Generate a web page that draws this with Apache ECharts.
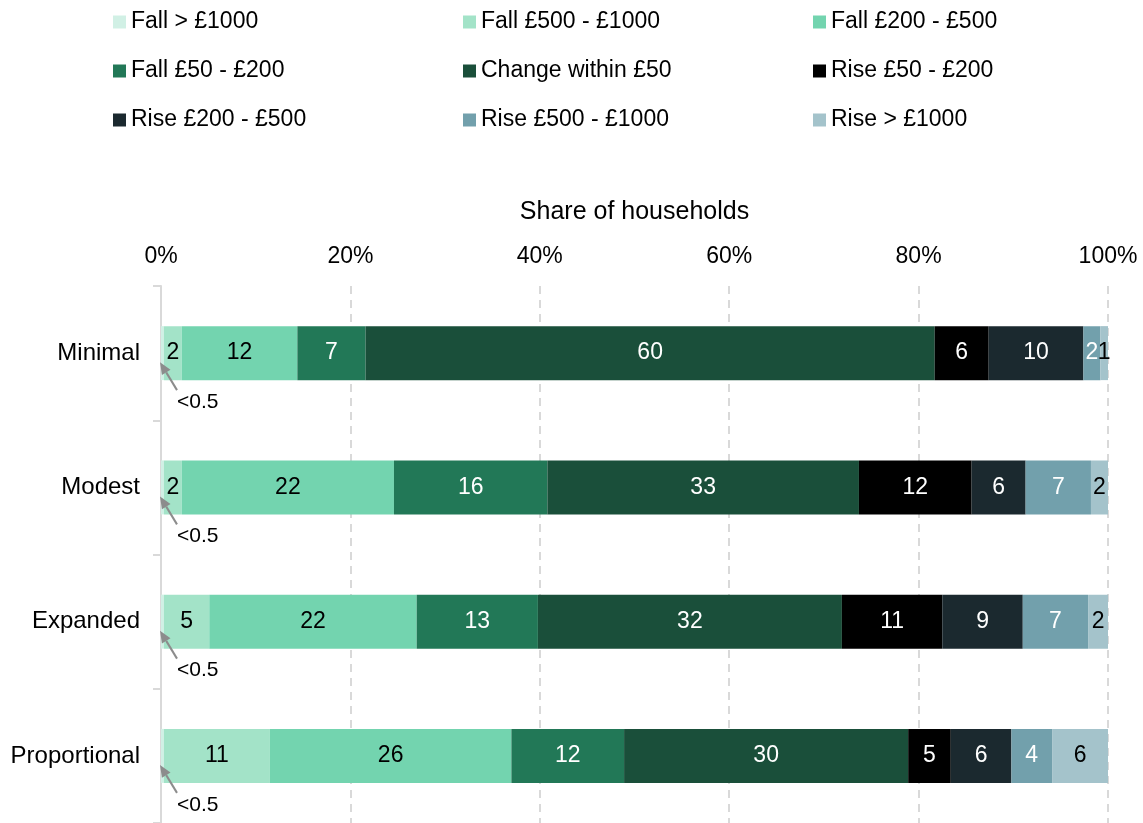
<!DOCTYPE html>
<html>
<head>
<meta charset="utf-8">
<script src="https://cdn.jsdelivr.net/npm/echarts@6/dist/echarts.min.js"></script>
<style>
  html, body { margin: 0; background: #fff; }
  #chart { width: 1143px; height: 823px; }
</style>
</head>
<body>
<div id="chart"></div>
<script>
const categories = ['Minimal', 'Modest', 'Expanded', 'Proportional'];
const seriesNames = [
  'Fall > £1000', 'Fall £500 - £1000', 'Fall £200 - £500',
  'Fall £50 - £200', 'Change within £50', 'Rise £50 - £200',
  'Rise £200 - £500', 'Rise £500 - £1000', 'Rise > £1000'
];
// share of households, %
const fallOver1000 = [0.3, 0.3, 0.3, 0.3];
const fall500to1000 = [1.9, 1.9, 4.8, 11.2];
const fall200to500 = [12.2, 22.4, 21.9, 25.5];
const fall50to200 = [7.2, 16.2, 12.8, 11.9];
const within50 = [60.1, 32.9, 32.1, 30.0];
const rise50to200 = [5.7, 11.9, 10.6, 4.5];
const rise200to500 = [10.0, 5.7, 8.5, 6.4];
const rise500to1000 = [1.8, 6.9, 6.9, 4.3];
const riseOver1000 = [0.8, 1.8, 2.1, 5.9];
const xTicks = [0, 20, 40, 60, 80, 100];
const smallNote = '<0.5';

const seriesData = [fallOver1000, fall500to1000, fall200to500, fall50to200, within50,
  rise50to200, rise200to500, rise500to1000, riseOver1000];
const colors = ['#d1f0e5', '#a3e3c8', '#73d4af', '#227857', '#1a4f3a',
  '#000000', '#1b292f', '#72a0ac', '#a4c3cb'];
const darkLabel = [true, true, true, false, false, false, false, false, true];

const FONT = 'Liberation Sans, Arial, sans-serif';
const chart = echarts.init(document.getElementById('chart'));

const legendCol = (names, left) => ({
  orient: 'vertical',
  left: left,
  top: 5,
  itemWidth: 13,
  itemHeight: 13,
  itemGap: 25,
  icon: 'rect',
  data: names,
  textStyle: { fontFamily: FONT, fontSize: 23, color: '#000', lineHeight: 24 }
});

chart.setOption({
  animation: false,
  color: colors,
  legend: [
    legendCol([seriesNames[0], seriesNames[3], seriesNames[6]], 108),
    legendCol([seriesNames[1], seriesNames[4], seriesNames[7]], 458),
    legendCol([seriesNames[2], seriesNames[5], seriesNames[8]], 808)
  ],
  grid: { left: 161, right: 35, top: 286, bottom: 0 },
  xAxis: {
    type: 'value',
    position: 'top',
    min: 0,
    max: 100,
    interval: 20,
    name: 'Share of households',
    nameLocation: 'middle',
    nameGap: 61,
    nameTextStyle: { fontFamily: FONT, fontSize: 25, color: '#000' },
    axisLine: { show: false },
    axisTick: { show: false },
    axisLabel: {
      fontFamily: FONT, fontSize: 23, color: '#000', margin: 18,
      formatter: v => xTicks.includes(v) ? v + '%' : ''
    },
    splitLine: { show: true, lineStyle: { color: '#d9d9d9', width: 2, type: [8, 6] } }
  },
  yAxis: {
    type: 'category',
    inverse: true,
    data: categories,
    axisLine: { show: true, lineStyle: { color: '#d9d9d9', width: 2 } },
    axisTick: { show: true, length: 8, lineStyle: { color: '#d9d9d9', width: 2 } },
    axisLabel: { fontFamily: FONT, fontSize: 24, color: '#000', margin: 21 }
  },
  series: seriesData.map((d, i) => ({
    name: seriesNames[i],
    type: 'bar',
    stack: 'total',
    barWidth: 54,
    data: d,
    label: {
      show: i > 0,
      position: 'inside',
      fontFamily: FONT,
      fontSize: 23,
      color: darkLabel[i] ? '#000' : '#fff',
      formatter: p => Math.round(p.value)
    }
  }))
});

// "<0.5" notes with arrows pointing at the tiny first segment
const graphics = [];
const x0 = chart.convertToPixel({ xAxisIndex: 0 }, 0);
categories.forEach(cat => {
  const yc = chart.convertToPixel({ yAxisIndex: 0 }, cat);
  const tip = [x0 - 1, yc + 9];
  const tail = [x0 + 16, yc + 37];
  const dx = tip[0] - tail[0], dy = tip[1] - tail[1];
  const len = Math.sqrt(dx * dx + dy * dy);
  const ux = dx / len, uy = dy / len;
  const bx = tip[0] - ux * 12, by = tip[1] - uy * 12;
  const px = -uy * 5, py = ux * 5;
  graphics.push({
    type: 'line',
    z: 100,
    shape: { x1: tail[0], y1: tail[1], x2: bx, y2: by },
    style: { stroke: '#8c8c8c', lineWidth: 2 }
  });
  graphics.push({
    type: 'polygon',
    z: 100,
    shape: { points: [tip, [bx + px, by + py], [bx - px, by - py]] },
    style: { fill: '#8c8c8c' }
  });
  graphics.push({
    type: 'text',
    z: 100,
    x: x0 + 16,
    y: yc + 49,
    style: { text: smallNote, font: '21px ' + FONT, fill: '#000', verticalAlign: 'middle', align: 'left' }
  });
});
chart.setOption({ graphic: graphics });
</script>
</body>
</html>
